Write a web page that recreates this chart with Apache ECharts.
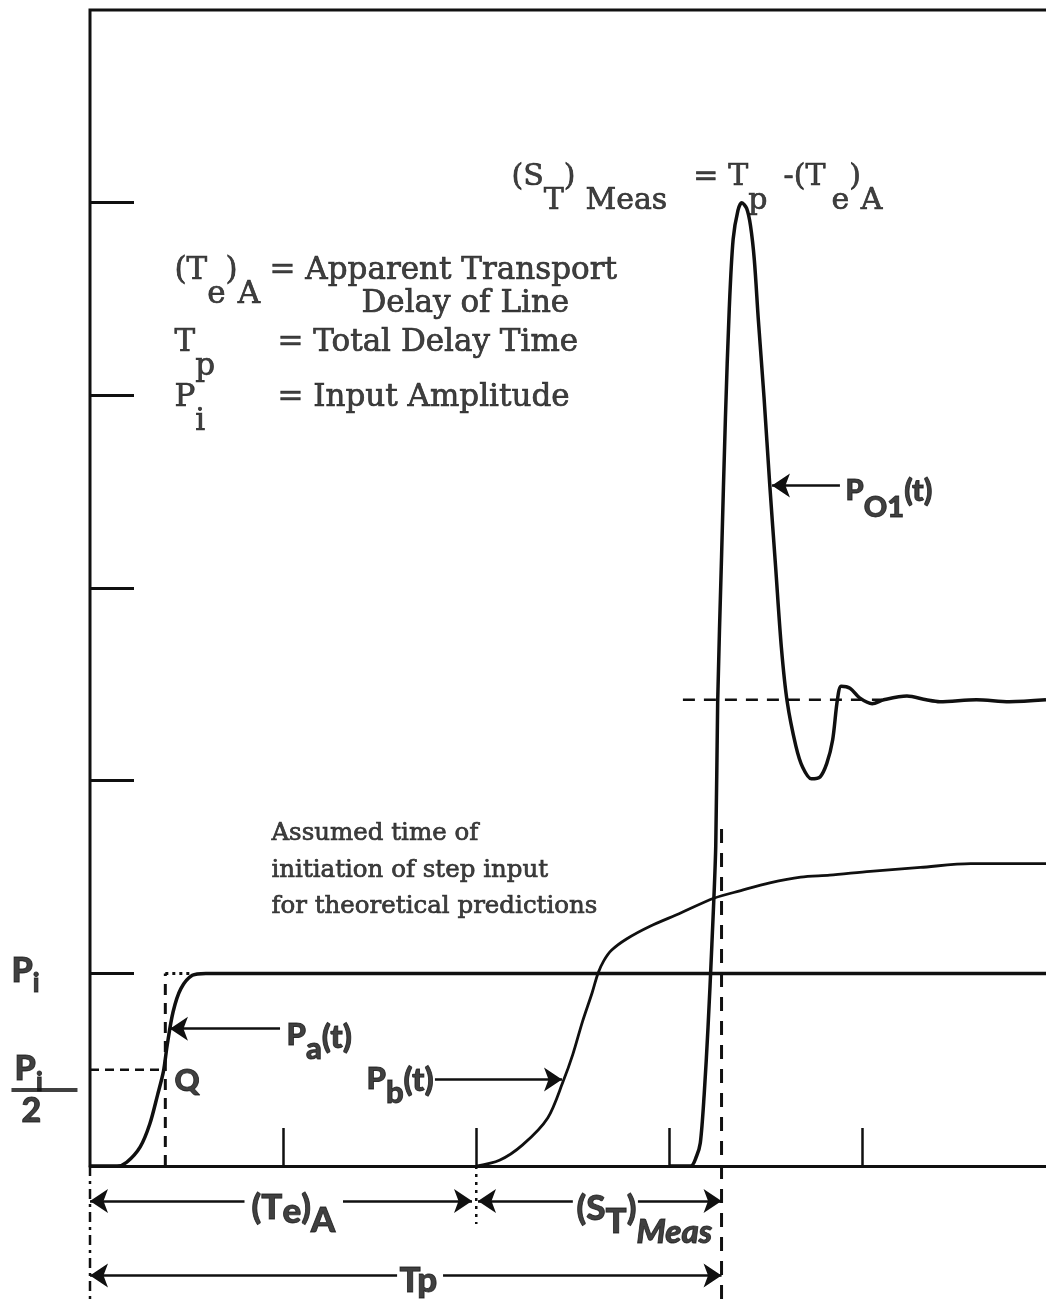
<!DOCTYPE html>
<html>
<head>
<meta charset="utf-8">
<script src="https://cdn.jsdelivr.net/npm/echarts@6/dist/echarts.min.js"></script>
<style>
  html, body { margin: 0; padding: 0; background: #fff; }
  #chart { width: 1046px; height: 1301px; }
</style>
</head>
<body>
<div id="chart"></div>
<script>
// Time in tick units, pressure in axis units (input amplitude Pi = 1).
const paCurve = [
  [0.00, 0.00], [0.14, 0.00], [0.19, 0.02], [0.26, 0.10], [0.31, 0.22], [0.35, 0.37],
  [0.38, 0.49], [0.40, 0.63], [0.43, 0.80], [0.47, 0.92], [0.53, 0.99], [0.60, 1.00],
  [4.95, 1.00]
];
const pbCurve = [
  [2.00, 0.00], [2.12, 0.03], [2.24, 0.11], [2.37, 0.25], [2.45, 0.44], [2.50, 0.58],
  [2.55, 0.75], [2.60, 0.90], [2.63, 1.00], [2.66, 1.065], [2.70, 1.12], [2.78, 1.18],
  [2.90, 1.245], [3.05, 1.31], [3.23, 1.39], [3.37, 1.43], [3.52, 1.47], [3.68, 1.50],
  [3.83, 1.51], [4.04, 1.53], [4.30, 1.55], [4.56, 1.57], [4.76, 1.57], [4.95, 1.57]
];
const po1Curve = [
  [3.00, 0.00], [3.11, 0.00], [3.14, 0.05], [3.16, 0.12], [3.18, 0.37], [3.20, 0.72],
  [3.22, 1.15], [3.24, 1.66], [3.25, 2.41], [3.27, 3.16], [3.29, 3.88], [3.31, 4.45],
  [3.33, 4.81], [3.355, 4.96], [3.375, 5.00], [3.40, 4.97], [3.42, 4.88], [3.44, 4.70],
  [3.46, 4.40], [3.49, 3.99], [3.52, 3.53], [3.55, 3.11], [3.58, 2.69], [3.61, 2.41],
  [3.655, 2.18], [3.69, 2.07], [3.735, 2.01], [3.78, 2.02], [3.815, 2.09], [3.845, 2.21],
  [3.87, 2.42], [3.89, 2.49], [3.935, 2.48], [3.985, 2.43], [4.05, 2.40], [4.11, 2.42],
  [4.23, 2.44], [4.33, 2.42], [4.40, 2.41], [4.59, 2.42], [4.76, 2.41], [4.95, 2.42]
];
const steadyLevel = 2.42;   // final level of PO1
const halfLevel = 0.5;      // Pi / 2
const stepTime = 0.39;      // point Q, half amplitude of Pa
const teA = 2.0;            // apparent transport delay (Te)A
const tp = 3.27;            // total delay time Tp
const xTicks = [1, 2, 3, 4];
const yTicks = [1, 2, 3, 4, 5];
const xMax = 4.95, yMax = 6, yMin = -0.7;

const INK = '#101010';
function style(base, extra) { return Object.assign({}, base, extra || {}); }
const serifBase = {
  fontFamily: '"DejaVu Serif", serif', color: INK, verticalAlign: 'top',
  textBorderColor: INK, textBorderWidth: 0.7
};
const legendFont = style(serifBase, { fontSize: 31, lineHeight: 36 });
const formulaFont = style(serifBase, { fontSize: 30, lineHeight: 34 });
const boldFont = {
  fontFamily: 'Lato, "DejaVu Sans", sans-serif', fontWeight: 900, color: INK,
  verticalAlign: 'top', textBorderColor: INK, textBorderWidth: 0.9
};
const rich = {
  // legend block
  m: legendFont,
  s: style(legendFont, { padding: [24, 0, 0, 0] }),
  // formula at the top
  f: formulaFont,
  fs: style(formulaFont, { padding: [24, 0, 0, 0] }),
  meas: style(formulaFont, { padding: [24, 0, 0, 10] }),
  eq: style(formulaFont, { padding: [0, 10, 0, 26] }),
  mm: style(formulaFont, { padding: [0, 0, 0, 16] }),
  fe: style(formulaFont, { padding: [24, 0, 0, 6] }),
  // note about step input
  a: style(serifBase, { fontSize: 24.5, lineHeight: 36.5 }),
  // curve labels
  P: style(boldFont, { fontSize: 29, lineHeight: 32, padding: [4, 0, 0, 0] }),
  O: style(boldFont, { fontSize: 29, lineHeight: 32, padding: [21, 0, 0, 0] }),
  t: style(boldFont, { fontSize: 31, lineHeight: 32, padding: [3, 0, 0, 0] }),
  Pa: style(boldFont, { fontSize: 31, lineHeight: 34, padding: [1, 0, 0, 0] }),
  ab: style(boldFont, { fontSize: 31, lineHeight: 34, padding: [15, 0, 0, 0] }),
  tt: style(boldFont, { fontSize: 33, lineHeight: 34, padding: [2, 0, 0, 0] }),
  q: style(boldFont, { fontSize: 31, lineHeight: 32 }),
  // dimension labels
  D: style(boldFont, { fontSize: 35, lineHeight: 38 }),
  De: style(boldFont, { fontSize: 35, lineHeight: 38, padding: [4, 0, 0, 0] }),
  Ds: style(boldFont, { fontSize: 35, lineHeight: 38, padding: [13, 0, 0, 0] }),
  Dm: style(boldFont, { fontSize: 33, lineHeight: 38, fontStyle: 'italic', padding: [25, 0, 0, 0] }),
  // Pi and Pi/2 level labels
  L: style(boldFont, { fontSize: 34, lineHeight: 36 }),
  Li: style(boldFont, { fontSize: 26, lineHeight: 28, padding: [17, 0, 0, 0] }),
  bar: { width: 66, height: 4, lineHeight: 4, fontSize: 1, backgroundColor: INK }
};

function path(name, data, width, dash, smooth) {
  return {
    type: 'line', name: name, data: data, symbol: 'none', showSymbol: false, silent: true,
    clip: false, smooth: smooth || false,
    lineStyle: { color: INK, width: width, type: dash || 'solid', cap: 'butt', join: 'miter' },
    z: 3
  };
}

// dimension lines and pointers: [tail, head]
const arrows = [
  [[0.80, -0.181], [0.0, -0.181]],
  [[1.31, -0.181], [1.978, -0.181]],
  [[2.50, -0.181], [2.009, -0.181]],
  [[2.837, -0.181], [tp, -0.181]],
  [[1.59, -0.568], [0.0, -0.568]],
  [[1.828, -0.568], [tp, -0.568]],
  [[3.883, 3.532], [3.531, 3.532]],
  [[0.984, 0.713], [0.414, 0.713]],
  [[1.786, 0.449], [2.444, 0.449]]
];

const notes = [
  { at: [2.185, 5.207], text: '{f|(S}{fs|T}{f|)}{meas|Meas}{eq|=}{f|T}{fs|p}{mm|-(T}{fe|e}{f|)}{fs|A}' },
  { at: [0.44, 4.724], text: '{m|(T}{s|e}{m|)}{s|A}' },
  { at: [0.932, 4.724], text: '{m|= Apparent Transport}' },
  { at: [1.408, 4.554], text: '{m|Delay of Line}' },
  { at: [0.44, 4.348], text: '{m|T}{s|p}' },
  { at: [0.973, 4.348], text: '{m|= Total Delay Time}' },
  { at: [0.44, 4.064], text: '{m|P}{s|i}' },
  { at: [0.973, 4.064], text: '{m|= Input Amplitude}' },
  { at: [0.942, 1.786], text: '{a|Assumed time of}\n{a|initiation of step input}\n{a|for theoretical predictions}' },
  { at: [3.915, 3.599], text: '{P|P}{O|O1}{t|(t)}' },
  { at: [1.02, 0.764], text: '{Pa|P}{ab|a}{tt|(t)}' },
  { at: [1.434, 0.536], text: '{Pa|P}{ab|b}{tt|(t)}' },
  { at: [0.44, 0.522], text: '{q|Q}' },
  { at: [0.839, -0.126], text: '{D|(T}{De|e}{D|)}{Ds|A}' },
  { at: [2.522, -0.132], text: '{D|(S}{Ds|T}{D|)}{Dm|Meas}' },
  { at: [1.605, -0.507], text: '{D|Tp}' },
  { at: [-0.404, 1.100], text: '{L|P}{Li|i}' },
  { at: [-0.388, 0.588], text: '{L|P}{Li|i}' },
  { at: [-0.404, 0.403], text: '{bar| }' },
  { at: [-0.352, 0.372], text: '{L|2}' }
];

const chart = echarts.init(document.getElementById('chart'), null, { renderer: 'canvas' });
chart.setOption({
  animation: false,
  backgroundColor: '#fff',
  grid: { left: 90, top: 10, width: 956, height: (yMax - yMin) * (1162 / 6) },
  xAxis: {
    type: 'value', min: 0, max: xMax,
    axisLine: { show: true, onZero: true, lineStyle: { color: INK, width: 3 } },
    axisTick: { show: true, inside: true, length: 38, customValues: xTicks, lineStyle: { color: INK, width: 2.5 } },
    axisLabel: { show: false },
    splitLine: { show: false }
  },
  yAxis: {
    type: 'value', min: yMin, max: yMax,
    axisLine: { show: false },
    axisTick: { show: true, inside: true, length: 44, customValues: yTicks, lineStyle: { color: INK, width: 3 } },
    axisLabel: { show: false },
    splitLine: { show: false }
  },
  series: [
    path('frame', [[0, 0], [0, yMax], [xMax, yMax]], 3),
    path('origin', [[0, 0], [0, yMin]], 2.5, [10, 5, 3, 5]),
    path('half', [[0, halfLevel], [stepTime, halfLevel]], 2.5, [9, 6]),
    path('step', [[stepTime, 0], [stepTime, 1]], 3, [11, 8]),
    path('stepTop', [[stepTime, 1], [0.53, 1]], 3, [3, 4]),
    path('steady', [[3.07, steadyLevel], [4.1, steadyLevel]], 2.5, [12, 9]),
    path('tp', [[tp, 1.75], [tp, yMin]], 3, [14, 10]),
    path('te', [[teA, 0], [teA, -0.3]], 2.5, [3, 5]),
    path('Pa(t)', paCurve, 3.5, null, 0.3),
    path('Pb(t)', pbCurve, 2.8, null, 0.3),
    path('PO1(t)', po1Curve, 3.5, null, 0.3),
    {
      type: 'lines', coordinateSystem: 'cartesian2d', silent: true, z: 4,
      symbol: ['none', 'arrow'], symbolSize: 18,
      lineStyle: { color: INK, width: 2.5, opacity: 1, curveness: 0 },
      data: arrows.map(function (a) { return { coords: a }; })
    },
    {
      type: 'scatter', silent: true, z: 5, symbolSize: 1, clip: false,
      itemStyle: { color: 'rgba(0,0,0,0)' },
      label: { show: true, position: [0, 0], align: 'left', verticalAlign: 'top', rich: rich, color: INK },
      data: notes.map(function (n) { return { value: n.at, label: { formatter: n.text } }; })
    }
  ]
});
</script>
</body>
</html>
